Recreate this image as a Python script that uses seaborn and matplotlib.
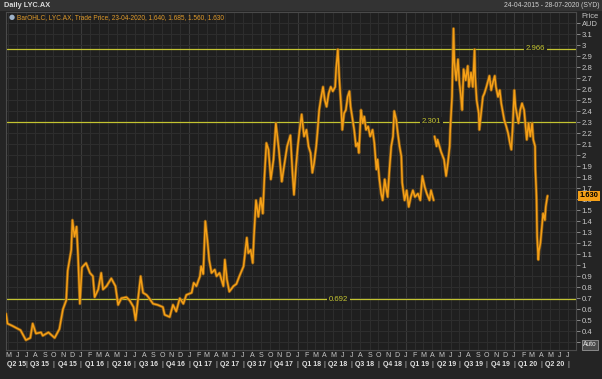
import pandas as pd
import numpy as np
import matplotlib
matplotlib.use('Agg')
import matplotlib.pyplot as plt
import matplotlib.dates as mdates
import matplotlib.transforms as mtrans
from matplotlib.patches import Rectangle
from matplotlib.ticker import FuncFormatter
import seaborn as sns

sns.set_theme(style="dark")
plt.rcParams['font.family'] = ['Liberation Sans', 'DejaVu Sans']

# LYC.AX daily price (AUD)
dates = [
    # 2015
    '2015-04-24', '2015-04-29', '2015-05-15', '2015-06-12', '2015-06-30', '2015-07-15',
    '2015-07-23', '2015-08-03', '2015-08-20', '2015-08-26', '2015-09-14', '2015-10-05',
    '2015-10-21', '2015-11-02', '2015-11-13', '2015-11-18', '2015-11-30', '2015-12-04',
    '2015-12-11', '2015-12-18', '2015-12-23', '2015-12-29',
    # 2016
    '2016-01-05', '2016-01-19', '2016-02-01', '2016-02-11', '2016-02-17', '2016-02-29',
    '2016-03-10', '2016-03-16', '2016-03-28', '2016-04-13', '2016-04-27', '2016-05-06',
    '2016-05-17', '2016-06-03', '2016-06-14', '2016-06-27', '2016-07-04', '2016-07-13',
    '2016-07-21', '2016-07-29', '2016-08-10', '2016-08-16', '2016-09-01', '2016-09-16',
    '2016-10-04', '2016-10-10', '2016-10-27', '2016-11-07', '2016-11-18', '2016-11-30',
    '2016-12-12', '2016-12-22',
    # 2017
    '2017-01-09', '2017-01-16', '2017-01-25', '2017-02-06', '2017-02-10', '2017-02-17',
    '2017-02-24', '2017-03-03', '2017-03-09', '2017-03-17', '2017-03-28', '2017-04-03',
    '2017-04-13', '2017-04-26', '2017-05-01', '2017-05-08', '2017-05-16', '2017-05-30',
    '2017-06-09', '2017-06-19', '2017-07-03', '2017-07-14', '2017-07-19', '2017-07-27',
    '2017-08-03', '2017-08-07', '2017-08-14', '2017-08-22', '2017-08-30', '2017-09-06',
    '2017-09-11', '2017-09-18', '2017-09-25', '2017-10-03', '2017-10-12', '2017-10-20',
    '2017-10-30', '2017-11-09', '2017-11-15', '2017-11-27', '2017-12-08', '2017-12-15',
    '2017-12-20', '2017-12-27',
    # 2018
    '2018-01-02', '2018-01-08', '2018-01-15', '2018-01-23', '2018-01-31', '2018-02-07',
    '2018-02-14', '2018-02-20', '2018-02-26', '2018-03-05', '2018-03-09', '2018-03-15',
    '2018-03-20', '2018-03-28', '2018-04-03', '2018-04-09', '2018-04-16', '2018-04-23',
    '2018-04-30', '2018-05-08', '2018-05-11', '2018-05-17', '2018-05-22', '2018-05-28',
    '2018-06-01', '2018-06-07', '2018-06-13', '2018-06-19', '2018-06-25', '2018-06-29',
    '2018-07-06', '2018-07-11', '2018-07-17', '2018-07-23', '2018-07-27', '2018-08-03',
    '2018-08-09', '2018-08-14', '2018-08-20', '2018-08-27', '2018-09-03', '2018-09-11',
    '2018-09-17', '2018-09-24', '2018-09-28', '2018-10-04', '2018-10-10', '2018-10-15',
    '2018-10-22', '2018-10-26', '2018-11-01', '2018-11-07', '2018-11-13', '2018-11-19',
    '2018-11-23', '2018-11-30', '2018-12-05', '2018-12-11', '2018-12-17', '2018-12-20',
    '2018-12-28',
    # 2019
    '2019-01-04', '2019-01-11', '2019-01-18', '2019-01-25', '2019-02-01', '2019-02-11',
    '2019-02-19', '2019-02-26', '2019-03-06', '2019-03-13', '2019-03-22', '2019-03-27',
    '2019-04-05', '2019-04-08', '2019-04-15', '2019-04-18', '2019-04-30', '2019-05-10',
    '2019-05-17', '2019-05-23', '2019-05-29', '2019-05-31', '2019-06-06', '2019-06-11',
    '2019-06-14', '2019-06-20', '2019-06-26', '2019-07-01', '2019-07-05', '2019-07-10',
    '2019-07-15', '2019-07-22', '2019-07-29', '2019-08-02', '2019-08-09', '2019-08-15',
    '2019-08-21', '2019-08-23', '2019-08-28', '2019-09-04', '2019-09-06', '2019-09-12',
    '2019-09-18', '2019-09-23', '2019-09-30', '2019-10-04', '2019-10-10', '2019-10-16',
    '2019-10-22', '2019-10-28', '2019-11-01', '2019-11-08', '2019-11-14', '2019-11-19',
    '2019-11-25', '2019-11-29', '2019-12-06', '2019-12-12', '2019-12-18', '2019-12-23',
    '2019-12-27',
    # 2020
    '2020-01-02', '2020-01-06', '2020-01-10', '2020-01-16', '2020-01-22', '2020-01-28',
    '2020-02-04', '2020-02-07', '2020-02-13', '2020-02-19', '2020-02-25', '2020-03-02',
    '2020-03-06', '2020-03-12', '2020-03-13', '2020-03-16', '2020-03-17', '2020-03-18',
    '2020-03-19', '2020-03-23', '2020-03-25', '2020-03-30', '2020-04-02', '2020-04-08',
    '2020-04-14', '2020-04-17', '2020-04-21', '2020-04-23',
]
prices = [
    # 2015
    0.56, 0.47, 0.45, 0.41, 0.32, 0.34,
    0.47, 0.38, 0.39, 0.36, 0.39, 0.34,
    0.42, 0.60, 0.68, 0.95, 1.14, 1.41,
    1.26, 1.35, 1.08, 0.65,
    # 2016
    0.98, 1.02, 0.93, 0.90, 0.71, 0.78,
    0.93, 0.78, 0.81, 0.88, 0.81, 0.64,
    0.70, 0.71, 0.68, 0.62, 0.50, 0.71,
    0.90, 0.75, 0.73, 0.71, 0.65, 0.64,
    0.62, 0.55, 0.53, 0.64, 0.58, 0.70,
    0.65, 0.73,
    # 2017
    0.75, 0.84, 0.81, 0.90, 0.99, 0.92,
    1.40, 1.23, 1.05, 0.93, 0.96, 0.90,
    0.93, 0.81, 1.05, 0.87, 0.76, 0.81,
    0.83, 0.90, 0.99, 1.25, 1.11, 1.14,
    1.02, 1.26, 1.59, 1.44, 1.61, 1.47,
    1.78, 2.11, 2.05, 1.78, 1.96, 2.29,
    2.05, 1.76, 1.87, 2.08, 2.18, 1.84,
    1.64, 1.90,
    # 2018
    2.08, 2.23, 2.37, 2.17, 2.23, 2.08,
    2.02, 1.84, 1.93, 2.08, 2.20, 2.41,
    2.50, 2.62, 2.50, 2.44, 2.56, 2.62,
    2.58, 2.62, 2.78, 2.96, 2.69, 2.44,
    2.23, 2.38, 2.41, 2.53, 2.58, 2.44,
    2.32, 2.23, 2.08, 2.11, 2.02, 2.41,
    2.29, 2.35, 2.23, 2.26, 2.17, 2.23,
    2.11, 1.87, 1.96, 1.78, 1.65, 1.59,
    1.78, 1.71, 1.62, 1.87, 2.08, 2.17,
    2.40, 2.32, 2.20, 2.08, 1.99, 1.75,
    1.59,
    # 2019
    1.68, 1.53, 1.62, 1.68, 1.62, 1.65,
    1.59, 1.81, 1.71, 1.65, 1.59, 1.68,
    1.59, 2.17, 2.08, 2.14, 2.03, 1.96,
    1.81, 1.93, 2.08, 2.23, 2.53, 3.15,
    2.84, 2.68, 2.87, 2.65, 2.56, 2.41,
    2.78, 2.68, 2.81, 2.62, 2.75, 2.62,
    2.96, 2.72, 2.50, 2.38, 2.23, 2.38,
    2.53, 2.56, 2.62, 2.66, 2.72, 2.59,
    2.66, 2.72, 2.62, 2.53, 2.59, 2.47,
    2.38, 2.32, 2.26, 2.20, 2.11, 2.05,
    2.23,
    # 2020
    2.59, 2.44, 2.38, 2.29, 2.41, 2.47,
    2.41, 2.32, 2.14, 2.29, 2.17, 2.29,
    2.14, 2.08, 1.87, 1.68, 1.59, 1.41,
    1.26, 1.05, 1.13, 1.20, 1.29, 1.47,
    1.41, 1.53, 1.60, 1.63,
]

# price gap (no bars between) in April 2019
gap_date = '2019-04-08'

# horizontal level lines and where their value labels sit
levels = [2.966, 2.301, 0.692]
level_label_dates = ['2020-03-14', '2019-03-28', '2018-05-20']

legend_text = "BarOHLC, LYC.AX, Trade Price, 23-04-2020, 1.640, 1.685, 1.560, 1.630"
last_price = 1.630

BG = '#1f1f1f'
BG_OUT = '#242424'
GRID = '#2d2d2d'
GRID_YEAR = '#3a3a3a'
ORANGE = '#f5a017'
ORANGE_DARK = '#9c6512'
LEVEL = '#c4c431'
TXT = '#c8c8c8'

df = pd.DataFrame({'date': pd.to_datetime(dates), 'price': prices})
df['seg'] = (df['date'] >= pd.Timestamp(gap_date)).astype(int)

W, H = 602, 379
fig = plt.figure(figsize=(W / 100, H / 100), dpi=100, facecolor=BG_OUT)


def fx(px):
    return px / W


def fy(py):
    return 1 - py / H


# title bar
fig.patches.append(Rectangle((0, fy(11)), 1, 11 / H, transform=fig.transFigure,
                             facecolor='#333333', edgecolor='none'))
fig.text(fx(4), fy(5.5), 'Daily LYC.AX', color='#dcdcdc', fontsize=5.3,
         fontweight='bold', va='center', ha='left')
fig.text(fx(599), fy(5.5), '24-04-2015 - 28-07-2020 (SYD)', color='#cfcfcf',
         fontsize=4.9, va='center', ha='right')

ax = fig.add_axes([fx(6), fy(350), fx(576) - fx(6), fy(12) - fy(350)])
ax.set_facecolor(BG)

x0, x1 = pd.Timestamp('2015-04-24'), pd.Timestamp('2020-07-28')
ax.set_xlim(x0, x1)
ax.set_ylim(0.23, 3.30)

# grid: monthly verticals, brighter at year starts, 0.1 horizontals
ax.xaxis.set_major_locator(mdates.YearLocator())
ax.xaxis.set_minor_locator(mdates.MonthLocator())
ax.grid(axis='x', which='minor', color=GRID, lw=0.8)
ax.grid(axis='x', which='major', color=GRID_YEAR, lw=0.8)
ax.tick_params(axis='x', which='both', length=0, labelbottom=False)

yticks = np.round(np.arange(0.3, 3.25, 0.1), 1)
ax.set_yticks(yticks)
ax.yaxis.set_major_formatter(FuncFormatter(
    lambda v, p: '' if v < 0.35 or v > 3.15 else f'{round(v, 1):g}'))
ax.yaxis.tick_right()
ax.grid(axis='y', color=GRID, lw=0.8)
ax.tick_params(axis='y', length=3, width=0.6, color='#9a9a9a', pad=1,
               labelsize=5.6, labelcolor=TXT)
for s in ax.spines.values():
    s.set_color('#4a4a4a')
    s.set_linewidth(0.8)

# level lines with values on them
for lv, ld in zip(levels, level_label_dates):
    ax.axhline(lv, color=LEVEL, lw=0.9, zorder=2)
    ax.text(pd.Timestamp(ld), lv, f'{lv:.3f}', color=LEVEL, fontsize=5.6,
            ha='center', va='center', zorder=3,
            bbox=dict(facecolor=BG, edgecolor='none', pad=1.2))

# darker band under the bright trace, like overlapping OHLC bars
sns.lineplot(data=df, x='date', y='price', units='seg', estimator=None,
             color=ORANGE_DARK, lw=2.2, alpha=0.8, ax=ax, legend=False, zorder=4)
sns.lineplot(data=df, x='date', y='price', units='seg', estimator=None,
             color=ORANGE, lw=1.1, ax=ax, legend=False, zorder=5)
ax.set_xlabel('')
ax.set_ylabel('')

# legend row inside the plot
fig.text(fx(12), fy(17.5), '\u25cf', color='#9fb3c8', fontsize=5, va='center', ha='center',
         family='DejaVu Sans')
fig.text(fx(17), fy(17.5), legend_text, color='#e09a2a', fontsize=4.7, va='center', ha='left')

# price axis caption and last price marker
fig.text(fx(590), fy(16), 'Price', color=TXT, fontsize=5.4, va='center', ha='center')
fig.text(fx(590), fy(25), 'AUD', color=TXT, fontsize=5.4, va='center', ha='center')
ax.text(1.006, last_price, f'{last_price:.3f}',
        transform=mtrans.blended_transform_factory(ax.transAxes, ax.transData),
        color='black', fontsize=5.4, fontweight='bold', va='center', ha='left', zorder=6,
        bbox=dict(facecolor=ORANGE, edgecolor='none', pad=1.0), clip_on=False)

# bottom axis: month initials and quarter labels
btrans = mtrans.blended_transform_factory(ax.transData, ax.transAxes)
for m in pd.date_range('2015-05-01', '2020-07-01', freq='MS'):
    ax.text(m, -0.016, m.strftime('%b')[0], transform=btrans, color=TXT,
            fontsize=5, ha='center', va='center', clip_on=False)
for q in pd.date_range('2015-04-01', '2020-04-01', freq='QS'):
    qx = max(q + pd.Timedelta(days=14), x0 + pd.Timedelta(days=3))
    ax.text(qx, -0.043, f'Q{q.quarter} {q:%y}', transform=btrans, color='#e0e0e0',
            fontsize=5.0, fontweight='bold', ha='left', va='center', clip_on=False)
for q in pd.date_range('2015-07-01', '2020-07-01', freq='QS'):
    ax.text(q, -0.043, '|', transform=btrans, color=TXT,
            fontsize=5, ha='center', va='center', clip_on=False)

fig.text(fx(590), fy(345), 'Auto', color='#e8e8e8', fontsize=4.8, va='center', ha='center',
         bbox=dict(facecolor='#4a4a4a', edgecolor='#aaaaaa', pad=0.8, lw=0.5))

fig.savefig('out.png', dpi=100, facecolor=fig.get_facecolor())
